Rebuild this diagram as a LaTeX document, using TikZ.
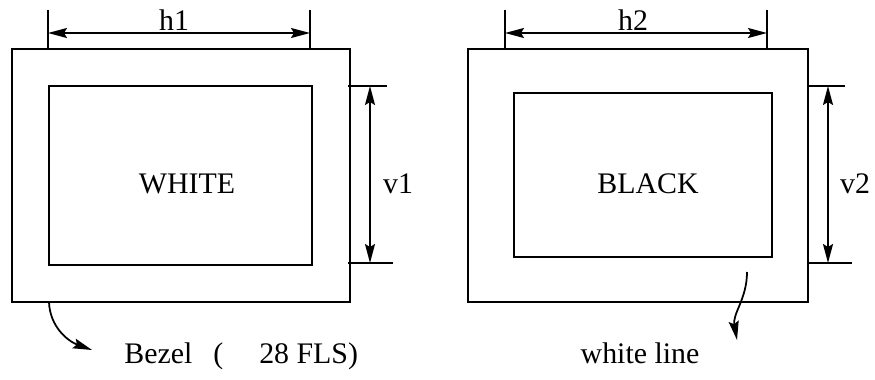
\documentclass[tikz,border=0pt]{standalone}
\usepackage{fontspec}
\setmainfont{Liberation Serif}
\usetikzlibrary{positioning,arrows.meta}
\tikzset{%
  every panel/.style={
    draw,
    line width=1pt,
    inner sep=0pt
  },
  ext line/.style={line width=1pt},
  dim line/.style={
    line width=1pt,
    {Stealth[length=0.38cm,width=0.2cm,inset=0.06cm]}-{Stealth[length=0.38cm,width=0.2cm,inset=0.06cm]}
  },
  pointer/.style={
    line width=1pt,
    -{Stealth[length=0.38cm,width=0.2cm,inset=0.06cm]}
  },
  label text/.style={
    font=\fontsize{17}{20}\selectfont,
    inner sep=0pt,
    anchor=base
  },
}

\begin{document}
\begin{tikzpicture}[x=0.02cm, y=-0.02cm]
\useasboundingbox (0,0) rectangle (875,379);

    % bezels and screens
    \node[every panel, minimum width=6.77cm, minimum height=5.06cm] (bezel_1) at (180.85,175.5){};
    \node[every panel, minimum width=5.26cm, minimum height=3.58cm] (screen_1) at (180.5,175.5){};
    \node[every panel, minimum width=6.80cm, minimum height=5.06cm] (bezel_2) at (638,175.5){};
    \node[every panel, minimum width=5.16cm, minimum height=3.28cm] (screen_2) at (643,175){};

    \node[label text] (text_1) at (187,193) {WHITE};
    \node[label text] (text_2) at (648,193) {BLACK};

    % horizontal dimensions
    \foreach \i/\xa/\xb/\xl in {1/48/310/174, 2/505/767/633}{
        \coordinate (h\i_top_l) at (\xa,10);
        \coordinate (h\i_bot_l) at (\xa,49);
        \coordinate (h\i_top_r) at (\xb,10);
        \coordinate (h\i_bot_r) at (\xb,49);
        \coordinate (h\i_l) at (\xa,33);
        \coordinate (h\i_r) at (\xb,33);
        \draw[ext line] (h\i_top_l) -- (h\i_bot_l);
        \draw[ext line] (h\i_top_r) -- (h\i_bot_r);
        \draw[dim line] (h\i_l) -- (h\i_r);
        \node[label text] (h\i_lbl) at (\xl,30) {h\i};
    }

    % vertical dimensions
    \foreach \i/\xa/\xm/\xt/\xb/\xl in {1/348/370/387/393/398, 2/807/828/845/852/855}{
        \coordinate (v\i_in_t) at (\xa,86);
        \coordinate (v\i_out_t) at (\xt,86);
        \coordinate (v\i_in_b) at (\xa,263);
        \coordinate (v\i_out_b) at (\xb,263);
        \coordinate (v\i_t) at (\xm,86);
        \coordinate (v\i_b) at (\xm,263);
        \draw[ext line] (v\i_in_t) -- (v\i_out_t);
        \draw[ext line] (v\i_in_b) -- (v\i_out_b);
        \draw[dim line] (v\i_t) -- (v\i_b);
        \node[label text] (v\i_lbl) at (\xl,193) {v\i};
    }

    % call-outs
    \coordinate (bezel_from) at (49,302);
    \coordinate (bezel_to) at (92,350);
    \draw[pointer] (bezel_from) to[out=-88, in=160] (bezel_to);
    \node[label text, anchor=base west] (bezel_lbl) at (124,363) {Bezel\hspace{0.42cm}(\hspace{0.72cm}28 FLS)};

    \coordinate (line_from) at (747,272);
    \coordinate (line_to) at (737,340);
    \draw[pointer] (line_from) to[out=-90, in=100] (line_to);
    \node[label text] (line_lbl) at (640,363) {white line};
\end{tikzpicture}
\end{document}
